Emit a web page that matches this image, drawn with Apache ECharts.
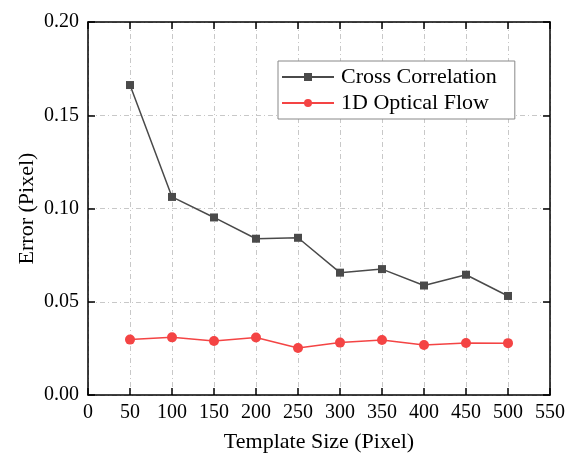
<!DOCTYPE html>
<html>
<head>
<meta charset="utf-8">
<script src="https://cdn.jsdelivr.net/npm/echarts@6/dist/echarts.min.js"></script>
<style>
html,body{margin:0;padding:0;background:#fff;}
#chart{width:568px;height:461px;}
</style>
</head>
<body>
<div id="chart"></div>
<script>
var templateSizes = [50, 100, 150, 200, 250, 300, 350, 400, 450, 500];
var crossCorrelation = [0.1662, 0.1062, 0.0952, 0.0838, 0.0843, 0.0656, 0.0675, 0.0587, 0.0645, 0.0531];
var opticalFlow = [0.0297, 0.0309, 0.0290, 0.0308, 0.0252, 0.0281, 0.0295, 0.0268, 0.0279, 0.0278];
var seriesNames = ['Cross Correlation', '1D Optical Flow'];
var xTitle = 'Template Size (Pixel)';
var yTitle = 'Error (Pixel)';

var FONT = '"Liberation Serif", "Times New Roman", serif';
var chart = echarts.init(document.getElementById('chart'));

function pairs(xs, ys) { return xs.map(function (x, i) { return [x, ys[i]]; }); }

var gridLine = { show: true, lineStyle: { color: '#c8c8c8', width: 1, type: [5, 3, 1, 3] } };
var axLine = { show: true, onZero: false, lineStyle: { color: '#000', width: 1.5 } };
var tick = { show: true, inside: true, length: 7, lineStyle: { color: '#000', width: 1.5 } };

chart.setOption({
  backgroundColor: '#fff',
  animation: false,
  grid: { left: 88, right: 15, top: 22, bottom: 66, containLabel: false },
  legend: {
    left: 278, top: 61,
    orient: 'vertical',
    data: seriesNames,
    backgroundColor: '#fff',
    borderColor: '#888',
    borderWidth: 1,
    borderRadius: 0,
    padding: [5, 18, 5, 3],
    itemGap: 4,
    itemWidth: 52,
    itemHeight: 10,
    textStyle: { fontFamily: FONT, fontSize: 22, color: '#000', padding: [0, 0, 0, 2] }
  },
  xAxis: [
    {
      type: 'value', position: 'bottom', min: 0, max: 550, interval: 50,
      name: xTitle, nameLocation: 'middle', nameGap: 36, nameMoveOverlap: false,
      nameTextStyle: { fontFamily: FONT, fontSize: 22, color: '#000' },
      axisLine: axLine, axisTick: tick,
      axisLabel: { fontFamily: FONT, fontSize: 20, color: '#000', margin: 8 },
      splitLine: gridLine
    },
    {
      type: 'value', position: 'top', min: 0, max: 550, interval: 50,
      axisLine: axLine, axisTick: tick, axisLabel: { show: false }, splitLine: { show: false }
    }
  ],
  yAxis: [
    {
      type: 'value', position: 'left', min: 0, max: 0.2, interval: 0.05,
      name: yTitle, nameLocation: 'middle', nameGap: 50, nameRotate: 90, nameMoveOverlap: false,
      nameTextStyle: { fontFamily: FONT, fontSize: 22, color: '#000' },
      axisLine: axLine, axisTick: tick,
      axisLabel: { fontFamily: FONT, fontSize: 20, color: '#000', margin: 9,
        formatter: function (v) { return v.toFixed(2); } },
      splitLine: gridLine
    },
    {
      type: 'value', position: 'right', min: 0, max: 0.2, interval: 0.05,
      axisLine: axLine, axisTick: tick, axisLabel: { show: false }, splitLine: { show: false }
    }
  ],
  series: [
    {
      name: seriesNames[0], type: 'line', data: pairs(templateSizes, crossCorrelation),
      symbol: 'rect', symbolSize: 8,
      itemStyle: { color: '#4a4a4a' },
      lineStyle: { color: '#4a4a4a', width: 1.5 }
    },
    {
      name: seriesNames[1], type: 'line', data: pairs(templateSizes, opticalFlow),
      symbol: 'circle', symbolSize: 10,
      itemStyle: { color: '#f44444' },
      lineStyle: { color: '#f44444', width: 1.5 }
    }
  ]
});
</script>
</body>
</html>
